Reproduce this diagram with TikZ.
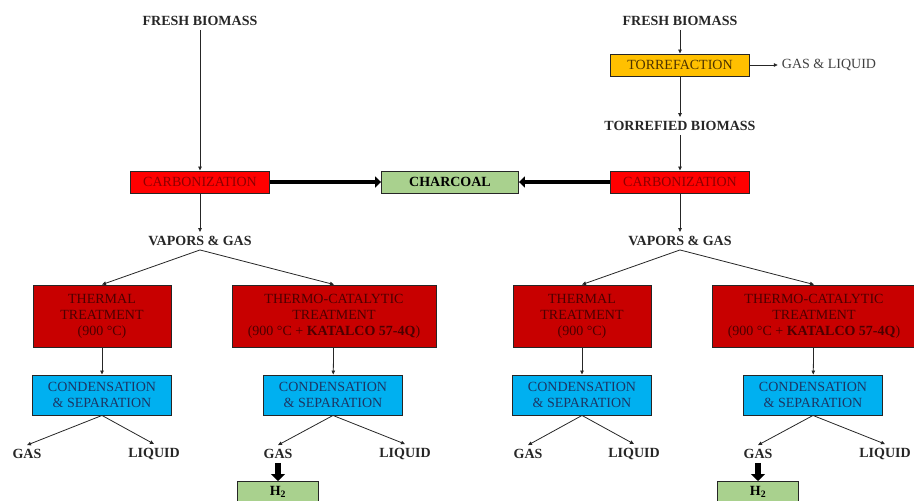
\documentclass[tikz,border=0pt]{standalone}
\usepackage{fontspec}
\setmainfont{Liberation Serif}
\usetikzlibrary{arrows.meta}

\definecolor{carbred}{HTML}{FF0000}
\definecolor{carbtext}{HTML}{8C0000}
\definecolor{thermred}{HTML}{C80000}
\definecolor{thermtext}{HTML}{4C0000}
\definecolor{sepblue}{HTML}{00B0F0}
\definecolor{septext}{HTML}{1C3664}
\definecolor{torryellow}{HTML}{FFC000}
\definecolor{torrtext}{HTML}{4D3300}
\definecolor{chargreen}{HTML}{A9D18E}
\definecolor{lbltext}{HTML}{262626}

\newcommand\diafont{\fontsize{14pt}{16pt}\selectfont}

\tikzset{
	box/.style={draw=black!85,line width=0.9pt,inner sep=0pt,align=center},
	carbbox/.style={box,fill=carbred,text=carbtext,minimum width=139pt,minimum height=22pt},
	torrbox/.style={carbbox,fill=torryellow,text=torrtext},
	charbox/.style={box,fill=chargreen,font=\diafont\bfseries,minimum width=137pt,minimum height=22pt},
	thermbox/.style={box,fill=thermred,text=thermtext,minimum height=62pt},
	sepbox/.style={box,fill=sepblue,text=septext,minimum width=139pt,minimum height=40pt},
	h2box/.style={box,fill=chargreen,font=\diafont\bfseries,minimum width=81pt,inner ysep=5pt,text depth=20pt,anchor=north},
	lbl/.style={text=lbltext,font=\diafont\bfseries,inner sep=4pt},
	outlbl/.style={text=black!75,inner sep=4pt},
	flow/.style={draw=black!85,line width=0.8pt,-{Triangle[length=4pt,width=3.5pt]}},
	fatflow/.style={draw=black,line width=4pt,-{Triangle[length=6pt,width=11pt]}},
	gasflow/.style={draw=black,line width=6pt,-{Triangle[length=7pt,width=14pt]}}
}

\begin{document}
\begin{tikzpicture}[x=1pt,y=-1pt,every node/.style={font=\diafont}]

	\useasboundingbox (0,0) rectangle (914,501);
	\clip (0,0) rectangle (914,501);

	% left route
	\node[lbl] (freshL) at (200,21) {FRESH BIOMASS};
	\node[carbbox] (carbL) at (200,182) {CARBONIZATION};
	\draw[flow] (freshL) -- (carbL);

	\node[charbox] (char) at (450,182) {CHARCOAL};

	% right route (torrefied)
	\node[lbl] (freshR) at (680,21) {FRESH BIOMASS};
	\node[torrbox] (torr) at (680,65) {TORREFACTION};
	\node[outlbl] (gasliq) at (829,65) {GAS \& LIQUID};
	\node[lbl] (torrbio) at (680,126) {TORREFIED BIOMASS};
	\node[carbbox] (carbR) at (680,182) {CARBONIZATION};
	\draw[flow] (freshR) -- (torr);
	\draw[flow] (torr) -- (gasliq);
	\draw[flow] (torr) -- (torrbio);
	\draw[flow] (torrbio) -- (carbR);

	\draw[fatflow] (carbL.east) -- (char.west);
	\draw[fatflow] (carbR.west) -- (char.east);

	\foreach \s/\o/\g in {L/0/27,R/480/528}
	{
		\node[lbl] (vap\s) at (200+\o,241) {VAPORS \& GAS};
		\draw[flow] (carb\s) -- (vap\s);

		\node[thermbox,minimum width=138pt] (th\s) at (102+\o,316) {THERMAL\\TREATMENT\\(900 °C)};
		\node[thermbox,minimum width=204pt] (tc\s) at (334+\o,316) {THERMO-CATALYTIC\\TREATMENT\\(900 °C + \textbf{KATALCO 57-4Q})};
		\draw[flow] (vap\s.south) -- (th\s.north);
		\draw[flow] (vap\s.south) -- (tc\s.north);

		\node[sepbox] (sa\s) at (102+\o,395) {CONDENSATION\\\& SEPARATION};
		\node[sepbox] (sb\s) at (333+\o,395) {CONDENSATION\\\& SEPARATION};
		\draw[flow] (th\s) -- (sa\s);
		\draw[flow] (tc\s) -- (sb\s);

		\node[lbl] (ga\s) at (\g,454) {GAS};
		\node[lbl] (la\s) at (154+\o,454) {LIQUID};
		\node[lbl] (gb\s) at (278+\o,454) {GAS};
		\node[lbl] (lb\s) at (405+\o,454) {LIQUID};
		\draw[flow] (sa\s.south) -- (ga\s.north);
		\draw[flow] (sa\s.south) -- (la\s.north);
		\draw[flow] (sb\s.south) -- (gb\s.north);
		\draw[flow] (sb\s.south) -- (lb\s.north);

		\node[h2box] (h2\s) at (278+\o,481) {H\textsubscript{2}};
		\draw[gasflow] (gb\s) -- (h2\s);
	}

\end{tikzpicture}
\end{document}
